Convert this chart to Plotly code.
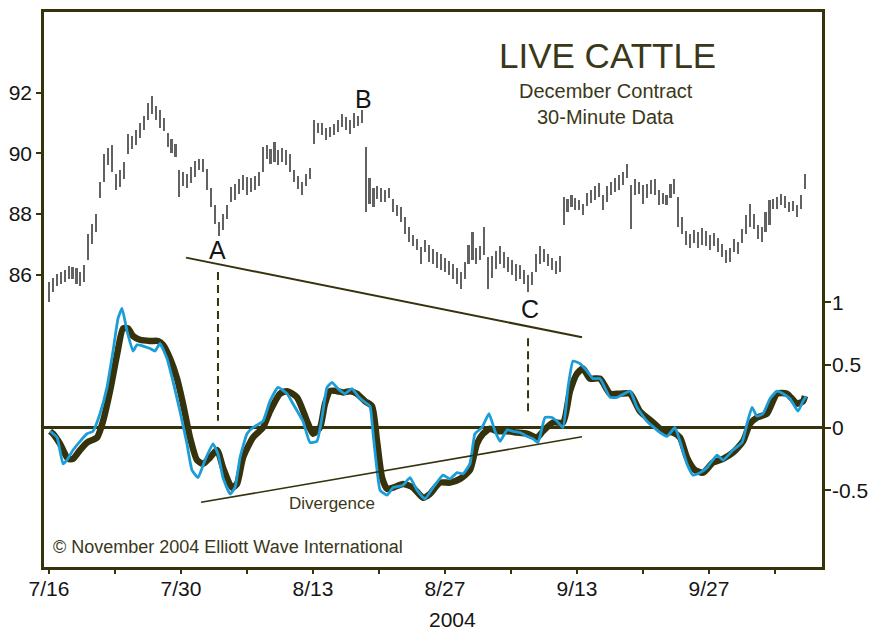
import numpy as np
import plotly.graph_objects as go

# ---- price bars (30-minute data, December live cattle), one bar every 0.3 trading day
bar_step = 0.3
price_high = [
    85.74, 85.90, 86.03, 86.10, 86.16, 86.30, 86.26, 86.23, 86.10, 86.33,
    87.35, 87.67, 88.00, 89.05, 89.97, 90.17, 90.27, 89.32, 89.45, 89.71,
    90.63, 90.57, 90.76, 90.99, 91.25, 91.68, 91.91, 91.58, 91.42, 91.16,
    90.66, 90.47, 90.30, 89.45, 89.38, 89.32, 89.55, 89.74, 89.81, 89.81,
    89.48, 88.86, 88.30, 87.74, 88.00, 88.30, 88.89, 88.99, 89.15, 89.28,
    89.22, 89.18, 89.25, 89.38, 90.20, 90.27, 90.14, 90.37, 90.11, 90.17,
    90.11, 89.97, 89.45, 89.25, 89.05, 89.32, 89.51, 91.12, 91.02, 90.99,
    90.83, 90.86, 90.96, 91.09, 91.29, 91.19, 91.12, 91.32, 91.25, 91.42,
    90.20, 89.18, 88.86, 88.92, 88.86, 88.79, 88.86, 88.50, 88.30, 88.23,
    87.90, 87.58, 87.31, 87.18, 86.92, 87.15, 86.98, 86.85, 86.76, 86.69,
    86.56, 86.46, 86.36, 86.23, 86.10, 86.43, 86.98, 87.41, 86.89, 86.95,
    87.58, 86.59, 86.62, 86.79, 86.95, 86.76, 86.59, 86.49, 86.36, 86.33,
    86.16, 86.00, 86.10, 86.69, 86.95, 86.85, 86.69, 86.56, 86.46, 86.62,
    88.56, 88.50, 88.63, 88.53, 88.46, 88.33, 88.69, 88.79, 88.92, 89.02,
    88.63, 88.92, 89.05, 89.18, 89.28, 89.38, 89.65, 88.96, 89.15, 89.05,
    88.96, 88.99, 89.12, 89.15, 88.79, 88.69, 88.63, 88.99, 89.15, 88.56,
    87.90, 87.45, 87.35, 87.48, 87.41, 87.54, 87.45, 87.31, 87.38, 87.22,
    87.02, 86.82, 86.89, 87.18, 87.08, 87.51, 87.97, 88.33, 88.00, 87.64,
    87.58, 88.07, 88.46, 88.50, 88.56, 88.66, 88.59, 88.40, 88.43, 88.30,
    88.63, 89.32,
]
price_low = [
    85.11, 85.44, 85.61, 85.70, 85.77, 85.87, 85.84, 85.70, 85.61, 85.77,
    86.49, 87.02, 87.41, 88.53, 89.05, 89.61, 89.38, 88.79, 88.89, 89.15,
    89.97, 90.14, 90.27, 90.50, 90.76, 91.09, 91.29, 91.09, 90.83, 90.73,
    90.20, 90.01, 89.88, 88.56, 88.92, 88.86, 89.02, 89.22, 89.45, 89.38,
    88.79, 88.23, 87.67, 87.28, 87.48, 87.84, 88.40, 88.46, 88.66, 88.79,
    88.63, 88.73, 88.79, 88.92, 89.38, 89.81, 89.65, 89.71, 89.61, 89.71,
    89.61, 89.38, 89.05, 88.82, 88.63, 88.92, 89.15, 90.30, 90.66, 90.60,
    90.43, 90.53, 90.60, 90.70, 90.86, 90.79, 90.63, 90.83, 90.89, 91.00,
    88.07, 88.33, 88.23, 88.50, 88.40, 88.40, 88.53, 88.07, 87.94, 87.74,
    87.35, 87.08, 86.95, 86.82, 86.36, 86.76, 86.43, 86.36, 86.23, 86.16,
    86.07, 85.97, 85.84, 85.70, 85.54, 85.84, 86.36, 86.49, 86.36, 86.49,
    86.66, 85.54, 85.90, 86.20, 86.36, 86.23, 86.10, 86.00, 85.80, 85.87,
    85.70, 85.44, 85.67, 86.10, 86.36, 86.43, 86.30, 86.16, 86.03, 86.10,
    87.64, 88.07, 88.23, 88.13, 88.13, 87.97, 88.26, 88.36, 88.46, 88.56,
    88.13, 88.40, 88.63, 88.73, 88.79, 88.96, 89.18, 87.51, 88.63, 88.66,
    88.33, 88.53, 88.66, 88.63, 88.30, 88.33, 88.30, 88.53, 88.66, 87.58,
    87.35, 86.98, 86.89, 87.05, 86.89, 86.98, 86.95, 86.82, 86.95, 86.76,
    86.59, 86.39, 86.43, 86.76, 86.69, 87.05, 87.35, 87.58, 87.51, 87.18,
    87.08, 87.41, 87.64, 88.17, 88.17, 88.30, 88.20, 88.07, 88.10, 87.90,
    88.17, 88.82,
]

# ---- oscillator: fast (blue) and slow (thick olive) lines, x in trading days from 7/16
fast_day = [
    0.08, 0.61, 1.06, 1.36, 1.82, 2.35, 2.88, 3.33, 3.86, 4.39, 4.85, 5.23, 5.53,
    5.91, 6.36, 6.67, 7.12, 7.65, 8.03, 8.41, 8.94, 9.39, 9.92, 10.45, 10.83,
    11.29, 11.82, 12.42, 12.80, 13.18, 13.71, 14.09, 14.47, 15.00, 15.45, 16.21,
    16.74, 17.35, 18.03, 18.48, 19.24, 19.77, 20.30, 20.68, 21.06, 21.44, 21.89,
    22.42, 22.95, 23.41, 23.94, 24.32, 24.55, 24.85, 25.08, 25.61, 26.06, 26.82,
    27.35, 27.88, 28.48, 29.09, 29.85, 30.38, 30.91, 31.36, 31.89, 32.27, 32.80,
    33.33, 33.79, 34.17, 34.70, 35.15, 35.68, 36.21, 36.67, 37.05, 37.58, 38.11,
    38.48, 38.94, 39.32, 39.70, 40.23, 40.76, 41.21, 41.74, 42.50, 43.03, 44.02,
    44.55, 45.30, 46.29, 46.82, 47.42, 47.80, 48.33, 48.79, 49.32, 49.85, 50.61,
    51.06, 51.82, 52.50, 52.88, 53.26, 53.64, 54.09, 54.62, 55.15, 55.61, 56.14,
    56.74, 57.12, 57.35,
]
fast_value = [
    -0.03, -0.08, -0.29, -0.26, -0.18, -0.11, -0.05, -0.03, 0.11, 0.32, 0.61, 0.87, 0.95,
    0.77, 0.61, 0.66, 0.65, 0.63, 0.61, 0.67, 0.55, 0.37, 0.13, -0.13, -0.34,
    -0.40, -0.26, -0.13, -0.21, -0.40, -0.53, -0.48, -0.24, -0.05, 0.00, 0.05,
    0.21, 0.32, 0.27, 0.19, 0.05, -0.12, -0.11, 0.08, 0.32, 0.36, 0.31,
    0.27, 0.31, 0.25, 0.20, 0.17, -0.05, -0.34, -0.50, -0.54, -0.48, -0.46,
    -0.40, -0.50, -0.57, -0.48, -0.38, -0.41, -0.36, -0.37, -0.29, -0.05, 0.00,
    0.11, -0.03, -0.11, -0.02, -0.03, -0.04, -0.07, -0.09, -0.12, 0.08, 0.08,
    0.05, 0.00, 0.32, 0.53, 0.51, 0.45, 0.39, 0.39, 0.24, 0.24, 0.29,
    0.16, 0.05, -0.04, -0.07, 0.00, -0.11, -0.29, -0.38, -0.36, -0.32, -0.22,
    -0.26, -0.18, -0.12, 0.03, 0.16, 0.09, 0.11, 0.23, 0.29, 0.27, 0.23,
    0.13, 0.21, 0.25,
]
slow_day = [
    0.08, 0.30, 0.83, 1.44, 1.82, 2.35, 2.88, 3.64, 4.09, 4.62, 5.15, 5.61, 5.98,
    6.36, 6.89, 7.65, 8.26, 8.64, 9.17, 9.70, 10.15, 10.68, 11.21, 11.67, 12.20,
    12.73, 13.18, 13.86, 14.24, 14.70, 15.45, 16.21, 16.74, 17.50, 18.03, 18.79,
    19.55, 20.00, 20.53, 20.91, 21.29, 21.82, 22.27, 22.80, 23.33, 23.94, 24.47,
    24.85, 25.23, 25.61, 26.06, 26.82, 27.58, 28.33, 28.86, 29.62, 30.38, 31.14,
    31.89, 32.42, 32.88, 33.41, 33.94, 34.70, 35.45, 36.21, 36.97, 37.42, 38.18,
    38.94, 39.47, 40.00, 40.45, 40.98, 41.74, 42.50, 43.26, 44.02, 44.77, 45.76,
    46.52, 47.27, 47.80, 48.33, 48.94, 49.55, 50.30, 51.06, 51.82, 52.58, 53.11,
    53.64, 54.39, 55.15, 55.91, 56.67, 57.12, 57.27,
]
slow_value = [
    -0.03, -0.05, -0.13, -0.25, -0.25, -0.18, -0.12, -0.08, 0.05, 0.29, 0.58, 0.79, 0.79,
    0.73, 0.70, 0.69, 0.69, 0.66, 0.55, 0.39, 0.19, -0.08, -0.26, -0.29, -0.24,
    -0.18, -0.32, -0.48, -0.45, -0.24, -0.08, 0.00, 0.13, 0.27, 0.29, 0.24,
    0.05, -0.05, 0.00, 0.19, 0.29, 0.29, 0.28, 0.29, 0.27, 0.21, 0.17,
    -0.11, -0.40, -0.49, -0.48, -0.45, -0.48, -0.56, -0.53, -0.44, -0.44, -0.41,
    -0.34, -0.13, -0.05, -0.01, -0.03, -0.03, -0.04, -0.05, -0.08, -0.03, 0.04,
    0.04, 0.29, 0.43, 0.47, 0.39, 0.39, 0.27, 0.27, 0.27, 0.13, 0.04,
    -0.03, -0.04, -0.08, -0.24, -0.34, -0.36, -0.28, -0.25, -0.20, -0.11, 0.03,
    0.08, 0.11, 0.27, 0.27, 0.19, 0.21, 0.25,
]

# ---- annotation lines (trading days, price / oscillator units)
upper_line_day = [10.38, 40.38]
upper_line_price = [86.56, 83.93]
lower_line_day = [11.52, 40.38]
lower_line_value = [-0.597, -0.074]
dash_a_day = [12.80, 12.80]
dash_a_value = [1.24, 0.053]
dash_c_day = [36.29, 36.29]
dash_c_value = [0.712, 0.109]

wave_labels = ["A", "B", "C"]
wave_day = [12.80, 23.79, 36.44]
wave_price = [86.82, 91.81, 84.88]

date_ticks = [0, 5, 10, 15, 20, 25, 30, 35, 40, 45, 50, 55]
date_labels = ["7/16", "", "7/30", "", "8/13", "", "8/27", "", "9/13", "", "9/27", ""]
price_ticks = [86, 88, 90, 92]
osc_ticks = [-0.5, 0, 0.5, 1]
osc_labels = ["-0.5", "0", "0.5", "1"]

OLIVE = "#35320c"
TEXT_OLIVE = "#3a3818"
BLUE = "#1b9dd9"
FONT = "Liberation Sans, Arial, Helvetica, sans-serif"

bar_day = np.arange(len(price_high)) * bar_step
high = np.array(price_high)
low = np.array(price_low)

fig = go.Figure()

fig.add_trace(
    go.Bar(
        x=bar_day, y=high - low, base=low,
        width=0.12,
        marker=dict(color="#626262", line=dict(width=0)),
        hoverinfo="skip",
    )
)

# trend line on price scale
fig.add_trace(
    go.Scatter(
        x=upper_line_day, y=upper_line_price,
        mode="lines", line=dict(color=OLIVE, width=2),
        hoverinfo="skip",
    )
)

# oscillator
fig.add_trace(
    go.Scatter(
        x=slow_day, y=slow_value, yaxis="y2",
        mode="lines", line=dict(color=OLIVE, width=6.5, shape="spline", smoothing=0.6),
    )
)
fig.add_trace(
    go.Scatter(
        x=fast_day, y=fast_value, yaxis="y2",
        mode="lines", line=dict(color=BLUE, width=2.8, shape="spline", smoothing=0.4),
    )
)
fig.add_trace(
    go.Scatter(
        x=lower_line_day, y=lower_line_value, yaxis="y2",
        mode="lines", line=dict(color=OLIVE, width=1.6),
        hoverinfo="skip",
    )
)
for xs, ys in [(dash_a_day, dash_a_value), (dash_c_day, dash_c_value)]:
    fig.add_trace(
        go.Scatter(
            x=xs, y=ys, yaxis="y2",
            mode="lines", line=dict(color=OLIVE, width=2, dash="8px,5px"),
            hoverinfo="skip",
        )
    )

for lab, d, p in zip(wave_labels, wave_day, wave_price):
    fig.add_annotation(
        x=d, y=p, xref="x", yref="y", text=lab, showarrow=False,
        xanchor="center", yanchor="middle",
        font=dict(size=25, color="#151515", family=FONT),
    )


def paper_note(x, y, text, size, color=TEXT_OLIVE, xanchor="center"):
    fig.add_annotation(
        x=x, y=y, xref="paper", yref="paper", text=text, showarrow=False,
        xanchor=xanchor, yanchor="middle",
        font=dict(size=size, color=color, family=FONT),
    )


paper_note(0.7237, 0.922, "LIVE CATTLE", 35)
paper_note(0.7224, 0.8584, "December Contract", 20)
paper_note(0.7224, 0.811, "30-Minute Data", 20)
paper_note(0.009, 0.0358, "© November 2004 Elliott Wave International", 18, xanchor="left")
paper_note(0.5257, -0.095, "2004", 21, color="#151515")

fig.add_annotation(
    x=21.44, y=-0.606, xref="x", yref="y2", text="Divergence",
    showarrow=False, xanchor="center", yanchor="middle",
    font=dict(size=17, color=TEXT_OLIVE, family=FONT),
)

x_range = [-0.38, 58.56]
osc_range = [-1.113, 3.315]
fig.update_layout(
    width=885, height=632,
    # the page body adds 8px, so the frame sits at 44..822 x 9..567 in the window
    margin=dict(l=36, r=71, t=1, b=73),
    paper_bgcolor="white", plot_bgcolor="white",
    showlegend=False,
    font=dict(family=FONT, size=21, color="#151515"),
    bargap=0,
    xaxis=dict(
        range=x_range, tickvals=date_ticks, ticktext=date_labels,
        ticks="outside", ticklen=4, tickwidth=1.5, tickcolor=OLIVE,
        ticklabelstandoff=-3,
        showline=True, linecolor=OLIVE, linewidth=2.5, mirror=True,
        showgrid=False, zeroline=False, fixedrange=True,
    ),
    xaxis2=dict(
        range=x_range, overlaying="x", anchor="y", side="bottom",
        tickvals=date_ticks, showticklabels=False,
        ticks="inside", ticklen=5, tickwidth=1.5, tickcolor=OLIVE,
        showline=False, showgrid=False, zeroline=False,
    ),
    yaxis=dict(
        range=[76.345, 94.67], tickvals=price_ticks,
        ticks="outside", ticklen=5, tickwidth=1.5, tickcolor=OLIVE,
        showline=True, linecolor=OLIVE, linewidth=2.5,
        showgrid=False, zeroline=False,
    ),
    yaxis2=dict(
        range=osc_range, overlaying="y", side="right",
        tickvals=osc_ticks, ticktext=osc_labels,
        ticks="outside", ticklen=6, tickwidth=1.5, tickcolor=OLIVE,
        ticklabelstandoff=-3,
        showline=True, linecolor=OLIVE, linewidth=2.5,
        showgrid=False, zeroline=True, zerolinecolor=OLIVE, zerolinewidth=2.6,
    ),
    yaxis3=dict(
        range=osc_range, overlaying="y", side="right", anchor="x",
        tickvals=osc_ticks, showticklabels=False,
        ticks="inside", ticklen=6, tickwidth=1.5, tickcolor=OLIVE,
        showline=False, showgrid=False, zeroline=False,
    ),
)

fig.write_html("out.html")
